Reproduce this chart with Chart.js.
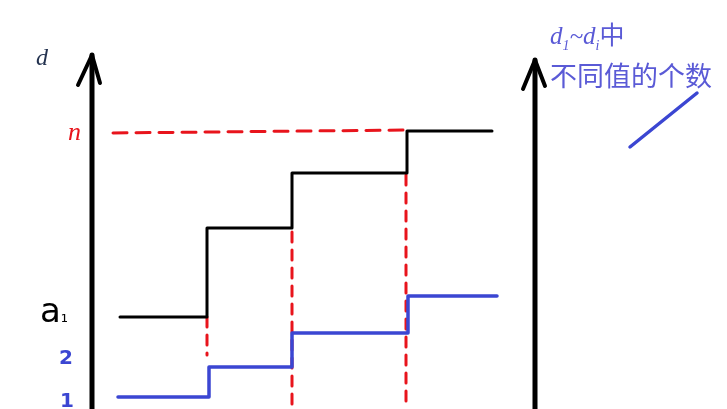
<!DOCTYPE html>
<html>
<head>
<meta charset="utf-8">
<script src="https://cdn.jsdelivr.net/npm/chart.js@4"></script>
<style>
  html, body { margin: 0; padding: 0; background: #fff; }
  #wrap { position: relative; width: 727px; height: 409px; overflow: hidden; }
  #wrap canvas { position: absolute; left: 0; top: 0; }
  .lbl { position: absolute; white-space: nowrap; line-height: 1; }
</style>
</head>
<body>
<div id="wrap">
  <canvas id="sketch" width="727" height="409"></canvas>
  <div class="lbl" style="left:36px;top:44px;font:italic 24px 'Liberation Serif';color:#23324f;">d</div>
  <div class="lbl" style="left:68px;top:117px;font:italic 26px 'Liberation Serif';color:#e8141c;">n</div>
  <div class="lbl" style="left:40px;top:290px;font:34px 'DejaVu Sans';color:#000;">a<span style="font-size:18px">₁</span></div>
  <div class="lbl" style="left:59px;top:345px;font:bold 20px 'DejaVu Sans';color:#3b46d2;">2</div>
  <div class="lbl" style="left:60px;top:388px;font:bold 20px 'DejaVu Sans';color:#3b46d2;">1</div>
  <div class="lbl" style="left:550px;top:15px;font:25px 'Liberation Serif','Noto Sans CJK SC';color:#5a5ad6;"><i>d<sub style="font-size:14px">1</sub>~d<sub style="font-size:14px">i</sub></i><span style="font-family:'Noto Sans CJK SC'">中</span></div>
  <div class="lbl" style="left:550px;top:55px;font:27px 'Noto Sans CJK SC';color:#5a5ad6;">不同值的个数</div>
</div>
<script>
// step positions along i (left edges of each level, last = right end)
const stepX = [120, 207, 292, 407, 492];
const blueStepX = [118, 209, 292, 408, 497];
// d values (black) and number of distinct values (blue)
const dLevels = [92, 181, 236, 278];
const countLevels = [12, 42, 76, 113];
// n line and where d jumps
const nLine = [[113, 276], [405, 279]];
const jumpX = [207, 292, 406];
const jumpTop = [92, 177, 234];
const jumpBottom = [54, 0, 0];

function stepPoints(xs, levels) {
    const pts = [];
    for (let k = 0; k < levels.length; k++) {
        pts.push({ x: xs[k], y: levels[k] });
        pts.push({ x: xs[k + 1], y: levels[k] });
    }
    return pts;
}

const jumpPoints = [];
jumpX.forEach((x, k) => {
    jumpPoints.push({ x: x, y: jumpTop[k] });
    jumpPoints.push({ x: x, y: jumpBottom[k] });
    jumpPoints.push({ x: x, y: null });
});

const black = '#000000';
const red = '#e8141c';
const blue = '#3b46d2';

const datasets = [
    { data: stepPoints(stepX, dLevels), borderColor: black, borderWidth: 3 },
    { data: stepPoints(blueStepX, countLevels), borderColor: blue, borderWidth: 3.5 },
    { data: nLine.map(p => ({ x: p[0], y: p[1] })), borderColor: red, borderWidth: 3, borderDash: [14, 9] },
    { data: jumpPoints, borderColor: red, borderWidth: 3, borderDash: [10, 8] },
    // left axis + arrow
    { data: [{x: 92, y: 0}, {x: 92, y: 354}], borderColor: black, borderWidth: 5 },
    { data: [{x: 78, y: 324}, {x: 92, y: 354}, {x: 100, y: 326}], borderColor: black, borderWidth: 4 },
    // right axis + arrow
    { data: [{x: 535, y: 0}, {x: 535, y: 349}], borderColor: black, borderWidth: 5 },
    { data: [{x: 523, y: 320}, {x: 535, y: 349}, {x: 545, y: 323}], borderColor: black, borderWidth: 4 },
    // pointer stroke
    { data: [{x: 630, y: 262}, {x: 697, y: 316}], borderColor: blue, borderWidth: 3.5 }
];
datasets.forEach(d => {
    d.showLine = true;
    d.pointRadius = 0;
    d.spanGaps = false;
    d.borderCapStyle = 'round';
    d.borderJoinStyle = 'round';
    d.tension = 0;
});

new Chart(document.getElementById('sketch').getContext('2d'), {
    type: 'scatter',
    data: { datasets: datasets },
    options: {
        responsive: false,
        animation: false,
        layout: { padding: 0 },
        plugins: { legend: { display: false }, tooltip: { enabled: false } },
        scales: {
            x: { type: 'linear', min: 0, max: 727, display: false },
            y: { type: 'linear', min: 0, max: 409, display: false }
        }
    }
});
</script>
</body>
</html>
